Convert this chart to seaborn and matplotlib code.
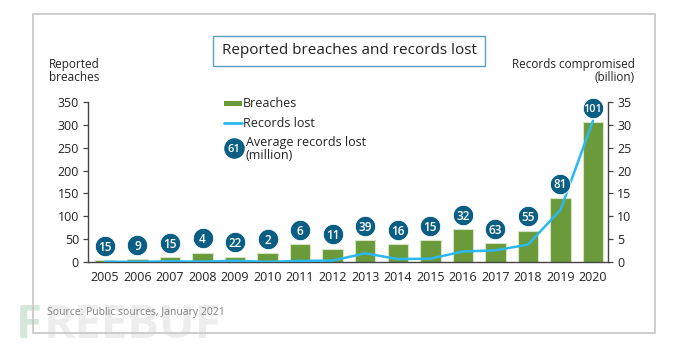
import numpy as np
import pandas as pd
import matplotlib
matplotlib.use("Agg")
import matplotlib.pyplot as plt
import matplotlib.transforms as mtransforms
from matplotlib.patches import Rectangle
from matplotlib.lines import Line2D
import seaborn as sns

years = ["2005", "2006", "2007", "2008", "2009", "2010", "2011", "2012",
         "2013", "2014", "2015", "2016", "2017", "2018", "2019", "2020"]
breaches = [4, 6, 10, 20, 12, 19, 39, 29, 48, 39, 48, 72, 41, 68, 140, 306]
records_billion = [0.06, 0.05, 0.15, 0.08, 0.26, 0.04, 0.23, 0.32,
                   1.9, 0.65, 0.72, 2.3, 2.55, 3.8, 11.4, 30.9]
avg_records_million = [15, 9, 15, 4, 22, 2, 6, 11, 39, 16, 15, 32, 63, 55, 81, 101]
left_ticks = [0, 50, 100, 150, 200, 250, 300, 350]
right_ticks = [0, 5, 10, 15, 20, 25, 30, 35]

GREEN = "#6a9a3a"
BLUE = "#2bb8f0"
NAVY = "#0b5e83"
TXT = "#222222"

sns.set_style("white")
plt.rcParams["font.family"] = ["Open Sans", "DejaVu Sans"]

W, H = 690, 354
fig = plt.figure(figsize=(W / 100, H / 100), dpi=100)

def fx(px):
    return px / W

def fy(py):
    return 1 - py / H

# outer frame
fig.patches.append(Rectangle((fx(32.5), fy(333)), fx(655) - fx(32.5), fy(14) - fy(333),
                             transform=fig.transFigure, fill=False, ec="#c6c6c6", lw=1.2))

# watermark
fig.text(fx(16), fy(326), "F", fontsize=34, fontweight="bold", color="#d3e8da",
         ha="left", va="center", zorder=0)
fig.text(fx(44), fy(326), "REEBUF", fontsize=34, fontweight="bold", color="#ededed",
         ha="left", va="center", zorder=0)

ax = fig.add_axes([fx(88), fy(262), fx(608) - fx(88), fy(102) - fy(262)])
df = pd.DataFrame({"year": years, "breaches": breaches,
                   "records": records_billion, "avg": avg_records_million})

sns.barplot(data=df, x="year", y="breaches", color=GREEN, saturation=1, width=0.63,
            edgecolor="#d5e4c4", linewidth=0.8, ax=ax, zorder=2)
ax.set_ylim(0, 350)
ax.set_xlim(-0.52, 15.46)
ax.set_yticks(left_ticks)
ax.set_xlabel("")
ax.set_ylabel("")

ax2 = ax.twinx()
sns.lineplot(data=df, x="year", y="records", color=BLUE, lw=1.8, ax=ax2, sort=False,
             zorder=3)
ax2.set_ylim(0, 35)
ax2.set_yticks(right_ticks)
ax2.set_ylabel("")
ax2.set_xlim(-0.52, 15.46)

for a in (ax, ax2):
    a.spines["top"].set_visible(False)
    for s in ("left", "right", "bottom"):
        a.spines[s].set_color("#444444")
        a.spines[s].set_linewidth(1.0)
ax.spines["right"].set_visible(False)
ax2.spines["left"].set_visible(False)
ax2.spines["bottom"].set_visible(False)

ax.tick_params(axis="y", left=True, length=3.5, width=0.9, color="#444444",
               labelsize=9, labelcolor=TXT, pad=3)
ax.tick_params(axis="x", bottom=False, labelsize=9, labelcolor=TXT, pad=3)
ax2.tick_params(axis="y", right=True, length=3.5, width=0.9, color="#444444",
                labelsize=9, labelcolor=TXT, pad=3)

# bubbles with average records lost (drawn on top axes, positioned by bar data)
trans = mtransforms.offset_copy(ax.transData, fig=fig, x=0, y=14.5, units="dots")
xs = np.arange(len(years))
ax2.scatter(xs, breaches, s=215, color=NAVY, transform=trans, zorder=5, clip_on=False,
            edgecolors="white", linewidths=0.6)
for x, b, v in zip(xs, breaches, avg_records_million):
    ax2.text(x, b, str(v), transform=trans, ha="center", va="center_baseline",
             color="white", fontsize=8.5 if v < 100 else 7.8, fontweight="semibold",
             zorder=6, clip_on=False)

# title box
fig.patches.append(Rectangle((fx(213), fy(66)), fx(485) - fx(213), fy(36) - fy(66),
                             transform=fig.transFigure, fill=True, fc="white",
                             ec="#5b9ec2", lw=1.0))
fig.text(fx(349), fy(50), "Reported breaches and records lost", fontsize=11,
         color=TXT, ha="center", va="center")

# axis titles
fig.text(fx(49), fy(71), "Reported\nbreaches", fontsize=8.5, color=TXT,
         ha="left", va="center", linespacing=1.05)
fig.text(fx(635), fy(71), "Records compromised\n(billion)", fontsize=8.5, color=TXT,
         ha="right", va="center", multialignment="right", linespacing=1.05)

# legend
fig.patches.append(Rectangle((fx(224), fy(106)), fx(242) - fx(224), fy(101) - fy(106),
                             transform=fig.transFigure, fc=GREEN, ec="none"))
fig.text(fx(243), fy(103.5), "Breaches", fontsize=9, color=TXT, ha="left", va="center")
fig.lines.append(Line2D([fx(224), fx(242)], [fy(123), fy(123)], transform=fig.transFigure,
                        color=BLUE, lw=2))
fig.text(fx(243), fy(123.5), "Records lost", fontsize=9, color=TXT, ha="left", va="center")
ax2.scatter([fx(234)], [fy(148)], s=190, color=NAVY, transform=fig.transFigure,
            clip_on=False, zorder=5)
fig.text(fx(234), fy(148), "61", fontsize=8, fontweight="semibold", color="white",
         ha="center", va="center_baseline", zorder=6)
fig.text(fx(246), fy(149), "Average records lost\n(million)", fontsize=9, color=TXT,
         ha="left", va="center", linespacing=1.0)

# source
fig.text(fx(47), fy(313), "Source: Public sources, January 2021", fontsize=7.5,
         color="#808080", ha="left", va="center")

fig.savefig("out.png", dpi=100)
